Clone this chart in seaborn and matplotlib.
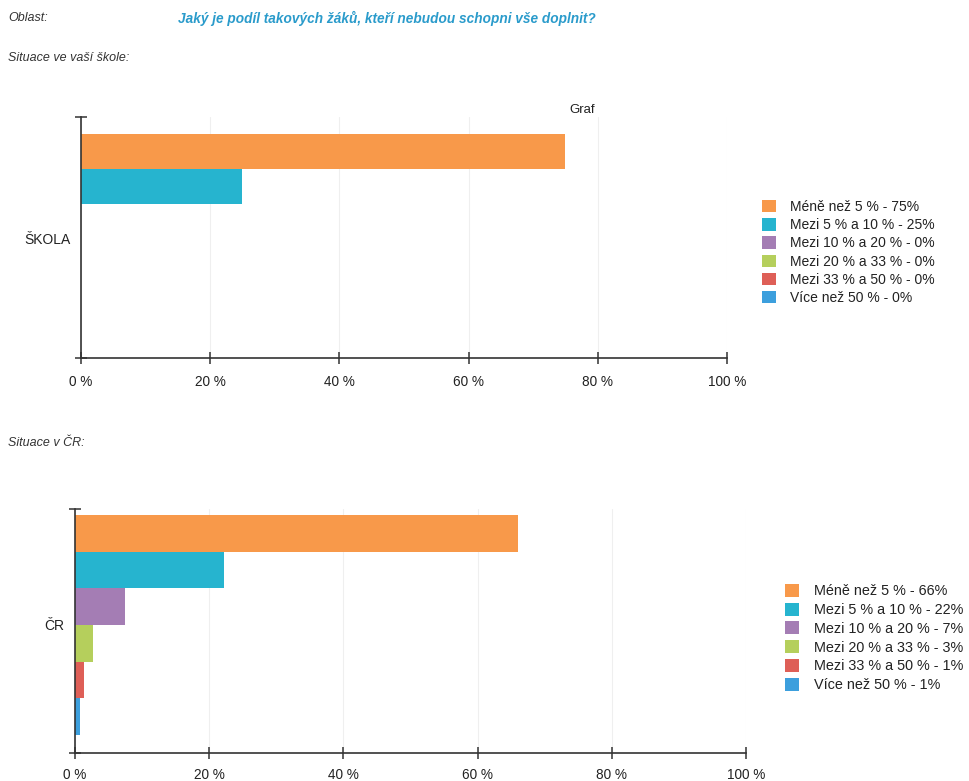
import matplotlib
matplotlib.use("Agg")
import matplotlib.pyplot as plt
import seaborn as sns
import pandas as pd

# === DATA ===
kategorie = ["Méně než 5 %", "Mezi 5 % a 10 %", "Mezi 10 % a 20 %",
             "Mezi 20 % a 33 %", "Mezi 33 % a 50 %", "Více než 50 %"]
skola_hodnoty = [75, 25, 0, 0, 0, 0]
cr_hodnoty = [66, 22.2, 7.4, 2.7, 1.4, 0.8]
barvy = ["#F8994A", "#26B4CF", "#A47DB4", "#B5CF5C", "#DE5F57", "#3C9FDD"]
x_ticks = [0, 20, 40, 60, 80, 100]

sns.set_style("white")
plt.rcParams["font.family"] = ["Liberation Sans", "DejaVu Sans"]

W, H = 970, 781
fig = plt.figure(figsize=(W / 100, H / 100), dpi=100)


def px_axes(left, top, right, bottom):
    return fig.add_axes([left / W, 1 - bottom / H, (right - left) / W, (bottom - top) / H])


def panel(ax, oblast, hodnoty, ylim, leg_xy, leg_fs, xpad):
    df = pd.DataFrame({
        "oblast": oblast,
        "kategorie": [f"{k} - {v:.0f}%" for k, v in zip(kategorie, hodnoty)],
        "hodnota": hodnoty,
    })
    sns.barplot(data=df, x="hodnota", y="oblast", hue="kategorie", palette=barvy,
                orient="h", width=1, saturation=1, linewidth=0, ax=ax)
    ax.set_xlim(0, 100)
    ax.set_ylim(*ylim)
    ax.set_xticks(x_ticks)
    ax.set_xticklabels([f"{t} %" for t in x_ticks], fontsize=9.8, color="#222")
    ax.set_xlabel("")
    ax.set_ylabel("")
    ax.tick_params(axis="x", bottom=True, length=9, direction="inout", width=1.1,
                   color="#333", pad=xpad)
    ax.tick_params(axis="y", which="major", left=False, labelsize=10, pad=4, labelcolor="#222")
    ax.set_yticks(list(ylim), minor=True)
    ax.tick_params(axis="y", which="minor", left=True, length=9, direction="inout",
                   width=1.1, color="#333")
    ax.grid(axis="x", color="#efefef", linewidth=0.8)
    ax.set_axisbelow(True)
    for s in ["top", "right"]:
        ax.spines[s].set_visible(False)
    for s in ["left", "bottom"]:
        ax.spines[s].set_color("#333")
        ax.spines[s].set_linewidth(1.2)
    ax.legend(loc="upper left", bbox_to_anchor=(leg_xy[0] / W, 1 - leg_xy[1] / H),
              bbox_transform=fig.transFigure, frameon=False, fontsize=leg_fs,
              borderpad=0, borderaxespad=0, handlelength=1.0, handleheight=1.0,
              handletextpad=1.0, labelspacing=0.3, labelcolor="#222")


ax1 = px_axes(81, 117, 727, 358)
panel(ax1, "ŠKOLA", skola_hodnoty, (0.567, -0.581), (762, 200), 10, 8)

ax2 = px_axes(75, 509, 746, 753)
panel(ax2, "ČR", cr_hodnoty, (0.582, -0.527), (785, 584), 10.4, 6)

fig.text(8 / W, 1 - 18 / H, "Oblast:", fontsize=9, style="italic", color="#333", va="center")
fig.text(178 / W, 1 - 18 / H, "Jaký je podíl takových žáků, kteří nebudou schopni vše doplnit?",
         fontsize=9.8, style="italic", weight="bold", color="#2A9BCB", va="center")
fig.text(8 / W, 1 - 58 / H, "Situace ve vaší škole:", fontsize=9, style="italic", color="#333", va="center")
fig.text(582 / W, 1 - 110 / H, "Graf", fontsize=9.5, color="#222", ha="center", va="center")
fig.text(8 / W, 1 - 443 / H, "Situace v ČR:", fontsize=9, style="italic", color="#333", va="center")

fig.savefig("out.png", dpi=100)
